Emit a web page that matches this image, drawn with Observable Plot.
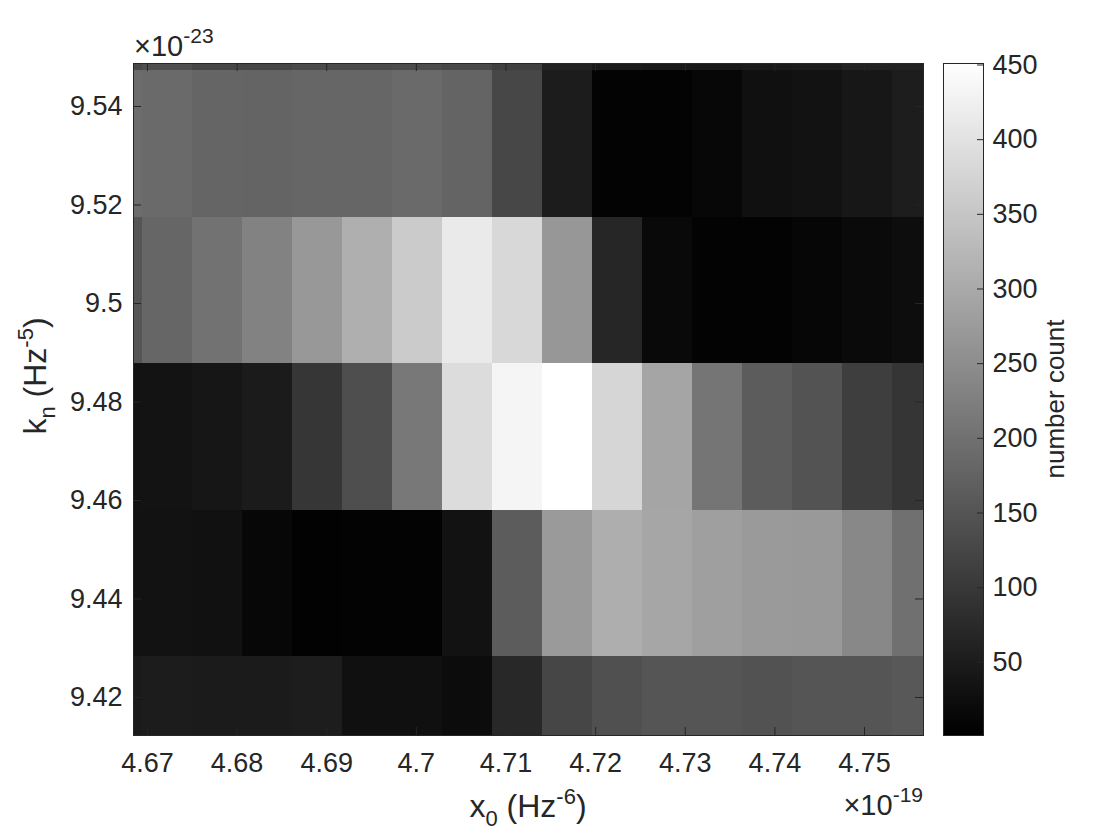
<!DOCTYPE html>
<html>
<head>
<meta charset="utf-8">
<script src="https://cdn.jsdelivr.net/npm/d3@7"></script>
<script src="https://cdn.jsdelivr.net/npm/@observablehq/plot@0.6"></script>
<style>
  html, body { margin: 0; padding: 0; background: #fff; }
  #wrap { position: relative; width: 1120px; height: 840px; overflow: hidden; background: #fff; }
  #wrap svg { position: absolute; top: 0; }
</style>
</head>
<body>
<div id="wrap"></div>
<script>
// ---- Data ----
// x0 bin edges (units of 1e-19 Hz^-6), visible part of the histogram
const xEdges = [4.66844, 4.66944, 4.67502, 4.68060, 4.68618, 4.69176, 4.69734, 4.70292, 4.70850,
                4.71407, 4.71965, 4.72523, 4.73081, 4.73639, 4.74197, 4.74755, 4.75313, 4.75658];
// k_n bin edges (units of 1e-23 Hz^-5), bottom to top
const yEdges = [9.41228, 9.42831, 9.45806, 9.48781, 9.51756, 9.54731, 9.54873];

// number counts per k_n bin (bottom to top), one value per x0 bin
const countsK1 = [47, 50, 49, 49, 52, 29, 29, 22, 72, 125, 142, 151, 151, 146, 151, 151, 156];
const countsK2 = [33, 33, 31, 13, 5, 6, 6, 33, 163, 273, 308, 294, 281, 273, 271, 241, 199];
const countsK3 = [33, 34, 40, 49, 96, 139, 213, 389, 433, 451, 379, 292, 207, 163, 148, 110, 95];
const countsK4 = [151, 181, 202, 230, 269, 310, 359, 414, 382, 267, 68, 17, 6, 6, 12, 19, 24];
const countsK5 = [192, 188, 179, 177, 181, 181, 188, 177, 126, 50, 6, 6, 13, 29, 33, 42, 52];
const countsK6 = [128, 139, 125, 125, 132, 132, 135, 128, 114, 61, 47, 43, 43, 47, 50, 61, 61];

const xTicks = [4.67, 4.68, 4.69, 4.70, 4.71, 4.72, 4.73, 4.74, 4.75];
const yTicks = [9.42, 9.44, 9.46, 9.48, 9.50, 9.52, 9.54];
const cTicks = [50, 100, 150, 200, 250, 300, 350, 400, 450];
const colorDomain = [1, 451];

// ---- Build table ----
const rows = [countsK1, countsK2, countsK3, countsK4, countsK5, countsK6];
const cells = [];
rows.forEach((row, i) => row.forEach((v, j) => cells.push({
  x1: xEdges[j], x2: xEdges[j + 1], y1: yEdges[i], y2: yEdges[i + 1], v
})));

const INK = "#262626";
const FONT = "'Liberation Sans', Arial, Helvetica, sans-serif";
const W = 1120, H = 840;
const mL = 133, mR = 197, mT = 63, mB = 105;
const pw = W - mL - mR, ph = H - mT - mB;
const TL = 8;
const colorOpts = {type: "linear", domain: colorDomain, range: ["#000000", "#ffffff"], clamp: true};
const fmt = d => String(+d.toFixed(4));

const main = Plot.plot({
  width: W, height: H,
  marginLeft: mL, marginRight: mR, marginTop: mT, marginBottom: mB,
  x: {domain: [xEdges[0], xEdges[xEdges.length - 1]]},
  y: {domain: [yEdges[0], yEdges[yEdges.length - 1]]},
  color: colorOpts,
  style: {fontFamily: FONT, fontSize: "27px", color: INK, background: "transparent"},
  marks: [
    Plot.rect(cells, {x1: "x1", x2: "x2", y1: "y1", y2: "y2", fill: "v", shapeRendering: "crispEdges"}),
    Plot.ruleX(xTicks, {x: d => d, insetTop: ph - TL, stroke: INK}),
    Plot.ruleX(xTicks, {x: d => d, insetBottom: ph - TL, stroke: INK}),
    Plot.ruleY(yTicks, {y: d => d, insetRight: pw - TL, stroke: INK}),
    Plot.ruleY(yTicks, {y: d => d, insetLeft: pw - TL, stroke: INK}),
    Plot.frame({stroke: INK, strokeWidth: 1}),
    Plot.axisX(xTicks, {tickSize: 0, tickPadding: 17, label: null, tickFormat: fmt, fill: INK}),
    Plot.axisY(yTicks, {tickSize: 0, tickPadding: 11, label: null, tickFormat: fmt, fill: INK})
  ]
});
main.style.left = "0px";
document.getElementById("wrap").appendChild(main);

// colorbar
const cbW = 40, cbLeft = 943;
const ramp = d3.range(colorDomain[0], colorDomain[1], 1);
const cb = Plot.plot({
  width: W - cbLeft, height: H,
  marginLeft: 0, marginRight: W - cbLeft - cbW, marginTop: mT, marginBottom: mB,
  y: {domain: colorDomain},
  color: colorOpts,
  style: {fontFamily: FONT, fontSize: "27px", color: INK, background: "transparent"},
  marks: [
    Plot.rect(ramp, {y1: d => d, y2: d => d + 1, fill: d => d + 0.5, shapeRendering: "crispEdges"}),
    Plot.ruleY(cTicks, {y: d => d, insetLeft: cbW - 6, stroke: INK}),
    Plot.frame({stroke: INK, strokeWidth: 1}),
    Plot.axisY(cTicks, {anchor: "right", tickSize: 0, tickPadding: 9, label: null, fill: INK})
  ]
});
cb.style.left = cbLeft + "px";
document.getElementById("wrap").appendChild(cb);

// ---- Labels with sub/superscripts ----
function addText(svg, attrs, parts) {
  const t = d3.select(svg).append("text")
    .attr("fill", INK).attr("font-family", FONT);
  Object.entries(attrs).forEach(([k, v]) => t.attr(k, v));
  parts.forEach(p => {
    const s = t.append("tspan").text(p.t).attr("font-size", p.fs);
    if (p.dy) s.attr("dy", p.dy);
  });
  return t;
}
// x label
addText(main, {x: mL + pw / 2, y: 817, "text-anchor": "middle"}, [
  {t: "x", fs: 32}, {t: "0", fs: 22, dy: 9}, {t: " (Hz", fs: 32, dy: -9},
  {t: "-6", fs: 22, dy: -13}, {t: ")", fs: 32, dy: 13}
]);
// y label
addText(main, {transform: `translate(46,376) rotate(-90)`, "text-anchor": "middle"}, [
  {t: "k", fs: 32}, {t: "n", fs: 22, dy: 9}, {t: " (Hz", fs: 32, dy: -9},
  {t: "-5", fs: 22, dy: -13}, {t: ")", fs: 32, dy: 13}
]);
// exponent labels
addText(main, {x: mL + 1, y: 56, "text-anchor": "start"}, [
  {t: "×10", fs: 29}, {t: "-23", fs: 21, dy: -13}
]);
addText(main, {x: mL + pw, y: 815, "text-anchor": "end"}, [
  {t: "×10", fs: 29}, {t: "-19", fs: 21, dy: -13}
]);
// colorbar label
addText(cb, {transform: `translate(121,399) rotate(-90)`, "text-anchor": "middle"}, [
  {t: "number count", fs: 26}
]);
</script>
</body>
</html>
